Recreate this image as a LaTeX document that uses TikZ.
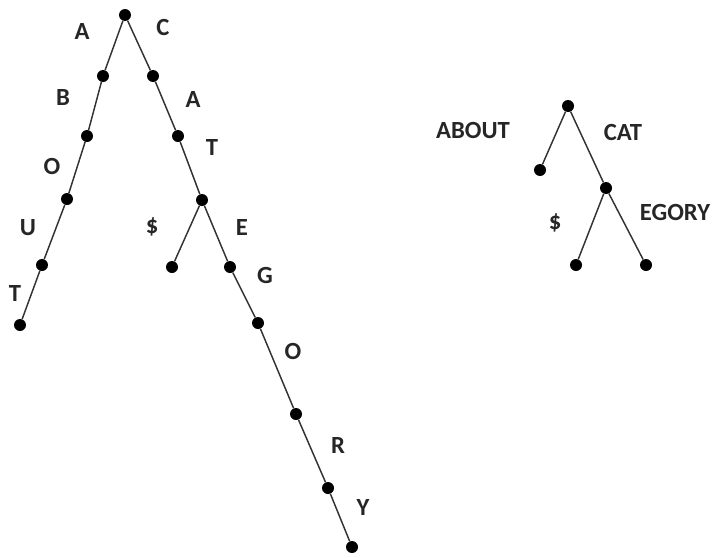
\documentclass[tikz,border=0pt]{standalone}
\usepackage{fontspec}
\setmainfont{Carlito}
\usepackage{tikz}

\begin{document}
\begin{tikzpicture}[x=0.75pt, y=-0.75pt,
    dot/.style={circle, fill=black, inner sep=0pt, minimum size=9pt},
    lbl/.style={text=black!85, font=\bfseries\fontsize{18.5}{20}\selectfont, inner sep=0pt},
    edge/.style={draw=black!80, line width=1.1pt}]
\useasboundingbox (0,0) rectangle (714,557);

% trie of single letters
\node[dot] (root) at (125,15) {};
\node[dot] (a1) at (103,76) {};
\node[dot] (a2) at (87,136) {};
\node[dot] (a3) at (67,199) {};
\node[dot] (a4) at (42,265) {};
\node[dot] (a5) at (20,325) {};
\node[dot] (c1) at (153,76) {};
\node[dot] (c2) at (178,136) {};
\node[dot] (c3) at (202,200) {};
\node[dot] (end) at (172,267) {};
\node[dot] (e1) at (230,267) {};
\node[dot] (e2) at (258,323) {};
\node[dot] (e3) at (296,414) {};
\node[dot] (e4) at (328,488) {};
\node[dot] (e5) at (352,547) {};

\draw[edge] (root) -- (a1) -- (a2) -- (a3) -- (a4) -- (a5);
\draw[edge] (root) -- (c1) -- (c2) -- (c3) -- (e1) -- (e2) -- (e3) -- (e4) -- (e5);
\draw[edge] (c3) -- (end);

\node[lbl] at (82,32) {A};
\node[lbl] at (63,98) {B};
\node[lbl] at (52,166) {O};
\node[lbl] at (28,228) {U};
\node[lbl] at (15,293) {T};
\node[lbl] at (163,27) {C};
\node[lbl] at (193,100) {A};
\node[lbl] at (212,148) {T};
\node[lbl] at (152,227) {\$};
\node[lbl] at (242,227) {E};
\node[lbl] at (265,275) {G};
\node[lbl] at (293,351) {O};
\node[lbl] at (338,445) {R};
\node[lbl] at (363,507) {Y};

% compressed version
\node[dot] (top) at (568,106) {};
\node[dot] (about) at (540,170) {};
\node[dot] (cat) at (606,188) {};
\node[dot] (catend) at (576,265) {};
\node[dot] (egory) at (646,265) {};

\draw[edge] (top) -- (about);
\draw[edge] (top) -- (cat) -- (egory);
\draw[edge] (cat) -- (catend);

\node[lbl] at (473,130) {ABOUT};
\node[lbl] at (623,132) {CAT};
\node[lbl] at (555,223) {\$};
\node[lbl] at (675,212) {EGORY};
\end{tikzpicture}
\end{document}
